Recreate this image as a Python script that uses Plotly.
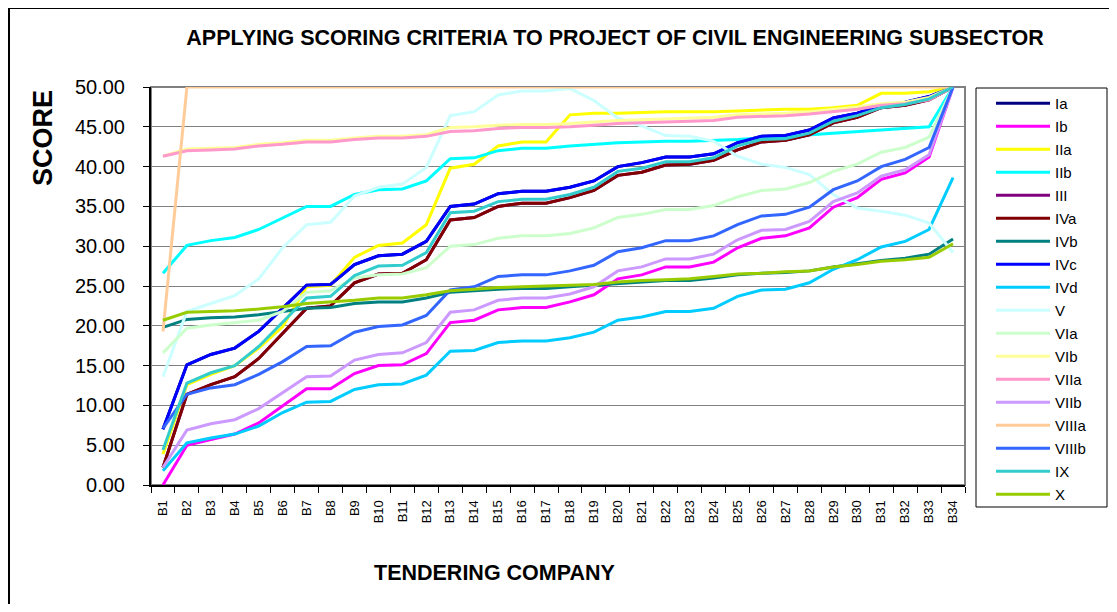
"""Line chart: scoring criteria applied to tendering companies (civil engineering)."""

import plotly.graph_objects as go

# Tendering companies on the x axis
companies = [f"B{i}" for i in range(1, 35)]

# Scoring criteria (series) in legend order
criteria = ["Ia", "Ib", "IIa", "IIb", "III", "IVa", "IVb", "IVc", "IVd",
            "V", "VIa", "VIb", "VIIa", "VIIb", "VIIIa", "VIIIb", "IX", "X"]

# Excel-style line colours
colors = ["#000080", "#FF00FF", "#FFFF00", "#00FFFF", "#800080", "#800000",
          "#008080", "#0000FF", "#00CCFF", "#CCFFFF", "#CCFFCC", "#FFFF99",
          "#FF99CC", "#CC99FF", "#FFCC99", "#3366FF", "#33CCCC", "#99CC00"]

# Ia and III are hidden under IVc and IVa in the picture
ia = [7.0, 15.1, 16.4, 17.2, 19.3, 22.2, 25.1, 25.2, 27.7, 28.8, 29.0, 30.6,
      35.0, 35.3, 36.6, 36.9, 36.9, 37.4, 38.2, 40.0, 40.5, 41.2, 41.2, 41.6,
      43.0, 43.8, 43.9, 44.6, 46.1, 46.7, 47.7, 48.1, 48.8, 50.0]
ib = [0.0, 5.0, 5.7, 6.4, 7.8, 9.9, 12.1, 12.1, 14.0, 15.0, 15.1, 16.5,
      20.4, 20.7, 22.0, 22.3, 22.3, 23.0, 23.9, 25.9, 26.4, 27.4, 27.4, 28.0,
      29.8, 31.0, 31.3, 32.3, 34.9, 36.1, 38.4, 39.2, 41.2, 50.0]
iia = [3.9, 12.6, 13.9, 15.0, 17.2, 19.9, 24.9, 25.1, 28.6, 30.1, 30.4, 32.7,
       39.8, 40.3, 42.6, 43.1, 43.1, 46.5, 46.7, 46.7, 46.8, 46.9, 46.9, 46.9,
       47.0, 47.1, 47.2, 47.2, 47.4, 47.7, 49.2, 49.2, 49.4, 50.0]
iib = [26.6, 30.1, 30.7, 31.1, 32.1, 33.5, 35.0, 35.0, 36.5, 37.1, 37.2, 38.2,
       41.0, 41.1, 42.0, 42.3, 42.3, 42.6, 42.8, 43.0, 43.1, 43.2, 43.2, 43.3,
       43.4, 43.6, 43.8, 44.0, 44.2, 44.4, 44.6, 44.8, 45.0, 50.0]
iii = [2.2, 11.4, 12.6, 13.6, 15.9, 19.1, 22.2, 22.5, 25.4, 26.5, 26.6, 28.3,
       33.3, 33.6, 35.0, 35.4, 35.4, 36.1, 37.0, 38.9, 39.3, 40.2, 40.3, 40.8,
       42.1, 43.1, 43.3, 44.0, 45.5, 46.2, 47.4, 47.7, 48.4, 50.0]
iva = [2.2, 11.4, 12.6, 13.6, 15.9, 19.1, 22.2, 22.5, 25.4, 26.5, 26.6, 28.3,
       33.3, 33.6, 35.0, 35.4, 35.4, 36.1, 37.0, 38.9, 39.3, 40.2, 40.3, 40.8,
       42.1, 43.1, 43.3, 44.0, 45.5, 46.2, 47.4, 47.7, 48.4, 50.0]
ivb = [19.8, 20.8, 21.0, 21.1, 21.4, 21.8, 22.2, 22.3, 22.8, 23.0, 23.0, 23.5,
       24.2, 24.4, 24.6, 24.7, 24.7, 24.9, 25.1, 25.3, 25.5, 25.7, 25.7, 26.0,
       26.4, 26.6, 26.7, 26.9, 27.4, 27.8, 28.2, 28.5, 29.0, 30.9]
ivc = [7.0, 15.1, 16.4, 17.2, 19.3, 22.2, 25.1, 25.2, 27.7, 28.8, 29.0, 30.6,
       35.0, 35.3, 36.6, 36.9, 36.9, 37.4, 38.2, 40.0, 40.5, 41.2, 41.2, 41.6,
       43.0, 43.8, 43.9, 44.6, 46.1, 46.7, 47.7, 48.1, 48.8, 50.0]
ivd = [1.8, 5.3, 5.9, 6.4, 7.4, 9.1, 10.4, 10.5, 12.0, 12.6, 12.7, 13.8,
       16.8, 16.9, 17.9, 18.1, 18.1, 18.5, 19.2, 20.7, 21.1, 21.8, 21.8, 22.2,
       23.7, 24.5, 24.6, 25.4, 27.1, 28.3, 29.9, 30.6, 32.1, 38.6]
v = [13.6, 21.8, 22.8, 23.8, 25.9, 29.8, 32.7, 33.0, 36.3, 37.4, 37.8, 39.9,
     46.4, 46.9, 49.0, 49.5, 49.5, 49.8, 48.3, 46.1, 45.1, 43.9, 43.8, 43.2,
     41.3, 40.3, 39.9, 39.0, 36.5, 34.8, 34.4, 33.9, 32.9, 29.2]
via = [16.6, 19.7, 20.1, 20.4, 20.7, 21.8, 24.2, 24.4, 26.0, 26.4, 26.5, 27.3,
       30.0, 30.2, 31.0, 31.3, 31.3, 31.6, 32.3, 33.6, 34.0, 34.6, 34.6, 35.1,
       36.2, 37.0, 37.2, 38.0, 39.4, 40.3, 41.8, 42.4, 43.7, 50.0]
vib = [41.3, 42.2, 42.3, 42.4, 42.8, 43.0, 43.3, 43.3, 43.6, 43.8, 43.8, 44.0,
       44.9, 45.0, 45.2, 45.3, 45.3, 45.4, 45.6, 45.8, 45.9, 46.0, 46.1, 46.2,
       46.5, 46.6, 46.7, 46.9, 47.2, 47.5, 47.9, 48.1, 48.7, 50.0]
viia = [41.3, 42.0, 42.1, 42.2, 42.6, 42.8, 43.1, 43.1, 43.4, 43.6, 43.6, 43.8,
        44.4, 44.5, 44.8, 44.9, 44.9, 45.0, 45.2, 45.4, 45.5, 45.6, 45.7, 45.8,
        46.2, 46.3, 46.4, 46.6, 46.9, 47.2, 47.7, 47.9, 48.4, 50.0]
viib = [2.2, 6.9, 7.7, 8.2, 9.6, 11.6, 13.6, 13.7, 15.7, 16.4, 16.6, 17.9,
        21.7, 22.0, 23.2, 23.5, 23.5, 24.0, 24.9, 26.9, 27.4, 28.4, 28.4, 29.0,
        30.8, 32.0, 32.1, 33.1, 35.6, 36.7, 38.8, 39.6, 41.5, 50.0]
viiia = [19.3] + [50.0] * 33
viiib = [7.1, 11.4, 12.2, 12.6, 13.9, 15.5, 17.4, 17.5, 19.2, 19.9, 20.1, 21.3,
         24.5, 24.9, 26.2, 26.4, 26.4, 26.9, 27.6, 29.3, 29.8, 30.7, 30.7, 31.3,
         32.7, 33.8, 34.0, 34.9, 37.1, 38.2, 40.0, 40.9, 42.4, 50.0]
ix = [4.4, 12.8, 14.1, 15.0, 17.4, 20.5, 23.5, 23.7, 26.3, 27.5, 27.6, 29.2,
      34.2, 34.4, 35.6, 35.9, 35.9, 36.5, 37.4, 39.4, 39.8, 40.6, 40.6, 41.1,
      42.6, 43.4, 43.5, 44.2, 45.7, 46.4, 47.4, 47.8, 48.5, 50.0]
x_series = [20.7, 21.7, 21.8, 21.9, 22.1, 22.4, 22.8, 23.0, 23.2, 23.5, 23.5,
            23.9, 24.4, 24.6, 24.8, 24.9, 25.0, 25.1, 25.2, 25.5, 25.7, 25.8,
            25.9, 26.2, 26.5, 26.6, 26.8, 26.9, 27.4, 27.7, 28.1, 28.3, 28.6,
            30.3]

series = [ia, ib, iia, iib, iii, iva, ivb, ivc, ivd, v, via, vib, viia, viib,
          viiia, viiib, ix, x_series]

_FONT = "Liberation Sans, Arial, sans-serif"

# page has an 8px body margin, so the figure is 1101x596 placed at (8, 8)
_OFF = 8
_W, _H = 1101, 596
# plot area in page pixels: x 151..965, y 87..485
_L, _R, _T, _B = 151, 965, 87, 485


def _px(x: float) -> float:
    return (x - _L) / (_R - _L)


def _py(y: float) -> float:
    return (_B - y) / (_B - _T)


fig = go.Figure()
for name, values, color in zip(criteria, series, colors):
    fig.add_trace(
        go.Scatter(
            x=companies,
            y=values,
            name=name,
            legendgroup=name,
            mode="lines",
            line={"color": color, "width": 3},
        )
    )

_LINE = {"color": "black", "width": 2}

fig.update_layout(
    width=_W,
    height=_H,
    paper_bgcolor="white",
    plot_bgcolor="white",
    margin={"l": _L - _OFF, "r": _W - (_R - _OFF), "t": _T - _OFF,
            "b": _H - (_B - _OFF)},
    font={"family": _FONT, "color": "black"},
    title={
        "text": "<b>APPLYING SCORING CRITERIA TO PROJECT OF CIVIL ENGINEERING SUBSECTOR</b>",
        "x": (615 - _OFF) / _W,
        "xanchor": "center",
        "y": 1 - (37 - _OFF) / _H,
        "yanchor": "middle",
        "font": {"size": 21.5, "family": _FONT},
    },
    xaxis={
        "type": "category",
        "range": [-0.5, 33.5],
        "showgrid": False,
        "showline": True,
        "linecolor": "black",
        "linewidth": 2,
        "ticks": "outside",
        "tickson": "boundaries",
        "ticklen": 6,
        "tickcolor": "black",
        "tickangle": -90,
        "tickfont": {"size": 13},
        "ticklabelstandoff": 8,
    },
    yaxis={
        "range": [0, 50],
        "dtick": 5,
        "tickformat": ".2f",
        "showgrid": True,
        "gridcolor": "#808080",
        "gridwidth": 1,
        "zeroline": False,
        "showline": True,
        "linecolor": "black",
        "linewidth": 2,
        "ticks": "outside",
        "ticklen": 6,
        "tickcolor": "black",
        "tickfont": {"size": 20},
        "ticklabelstandoff": 14,
    },
    legend={
        "x": _px(991),
        "xanchor": "left",
        "y": 1.0,
        "yanchor": "top",
        "borderwidth": 0,
        "bgcolor": "rgba(0,0,0,0)",
        "font": {"size": 15},
        "itemwidth": 54,
        "tracegroupgap": 0.5,
        "maxheight": 520,
    },
    shapes=[
        # outer chart frame (left and top edges are visible)
        {"type": "line", "xref": "paper", "yref": "paper",
         "x0": _px(9), "x1": _px(9), "y0": _py(612), "y1": _py(8),
         "line": _LINE},
        {"type": "line", "xref": "paper", "yref": "paper",
         "x0": _px(9), "x1": _px(1117), "y0": _py(8), "y1": _py(8),
         "line": _LINE},
        # legend box
        {"type": "rect", "xref": "paper", "yref": "paper",
         "x0": _px(976), "x1": _px(1107), "y0": _py(507), "y1": _py(88),
         "line": {"color": "black", "width": 1}, "fillcolor": "white",
         "layer": "below"},
        # gray plot-area border
        {"type": "rect", "xref": "paper", "yref": "paper",
         "x0": 0, "x1": 1, "y0": 0, "y1": 1,
         "line": {"color": "#808080", "width": 2}, "layer": "below"},
    ],
    annotations=[
        {
            "text": "<b>SCORE</b>",
            "xref": "paper", "yref": "paper",
            "x": _px(43), "y": _py(138),
            "xanchor": "center", "yanchor": "middle",
            "textangle": -90,
            "showarrow": False,
            "font": {"size": 27},
        },
        {
            "text": "<b>TENDERING COMPANY</b>",
            "xref": "paper", "yref": "paper",
            "x": _px(494), "y": _py(573),
            "xanchor": "center", "yanchor": "middle",
            "showarrow": False,
            "font": {"size": 21.5},
        },
    ],
)

fig.write_html("out.html")
